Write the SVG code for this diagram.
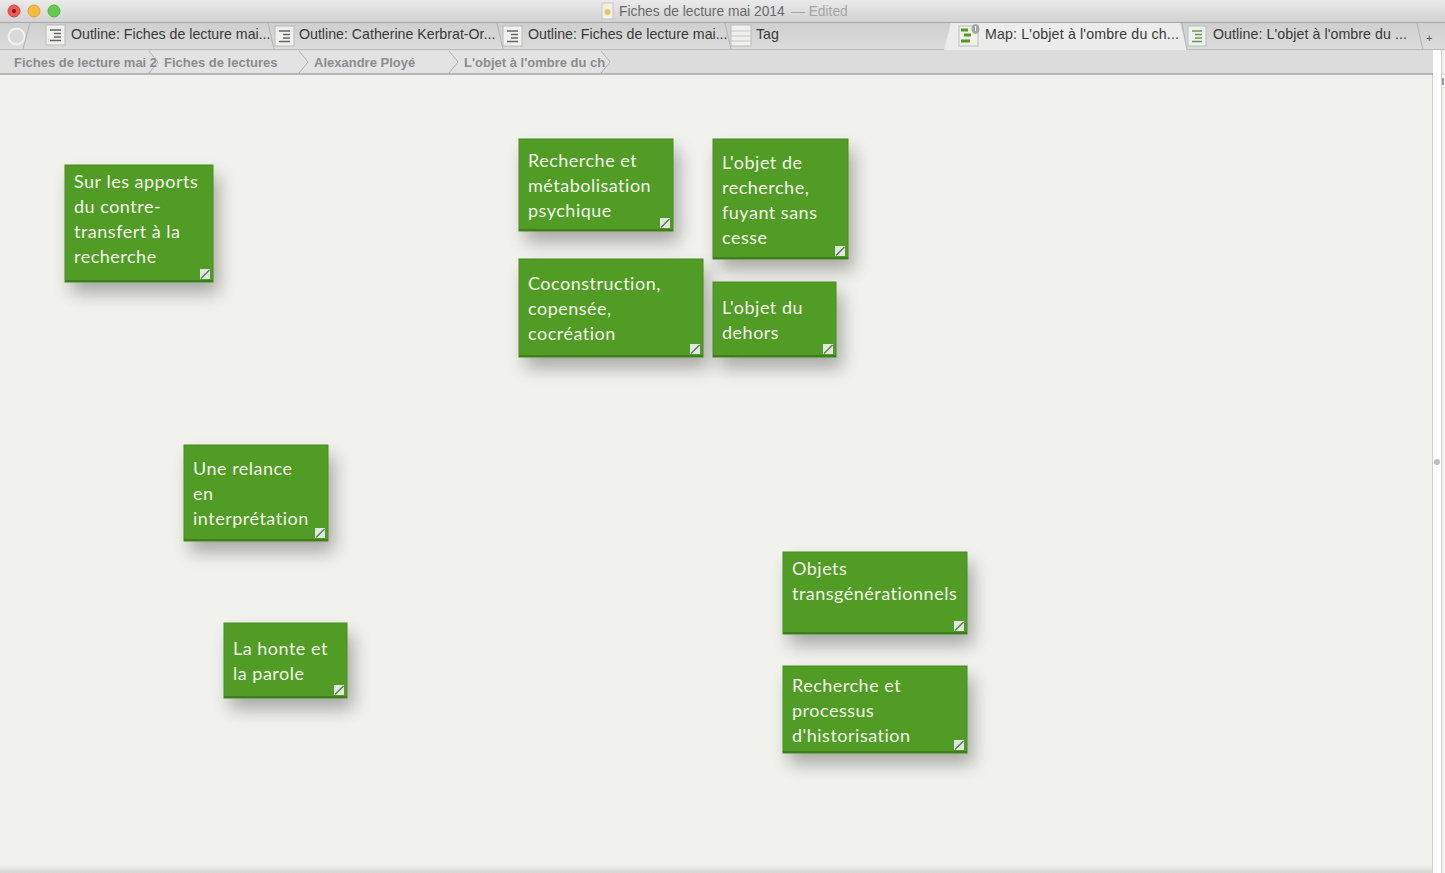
<svg xmlns="http://www.w3.org/2000/svg" width="1445" height="873" viewBox="0 0 1445 873">
<style>
.n{fill:#509c24;stroke:#468f1e;stroke-width:1}
.e{fill:none;stroke:#3e7f1a;stroke-width:2}
.sh{fill:#000;opacity:.3}
.t{font-family:"Lato","Liberation Sans",sans-serif;font-size:18px;fill:#f2f8ea;letter-spacing:.5px}
.tab{font-family:"Liberation Sans",Arial,sans-serif;font-size:14.2px;fill:#3a3a3a}
.bc{font-family:"Liberation Sans",Arial,sans-serif;font-size:13px;font-weight:bold;fill:#8c8c8c}
.ic{fill:#f1f1ef;stroke:#b9b9b9}
.il{stroke:#666;stroke-width:1.5}
.sep{fill:none;stroke:#b2b2b2}
</style>
<defs>
<linearGradient id="ti" x1="0" y1="0" x2="0" y2="1"><stop offset="0" stop-color="#eaeaea"/><stop offset="1" stop-color="#d2d2d2"/></linearGradient>
<linearGradient id="tb" x1="0" y1="0" x2="0" y2="1"><stop offset="0" stop-color="#cfcfcf"/><stop offset="1" stop-color="#dcdcdc"/></linearGradient>
<linearGradient id="bot" x1="0" y1="0" x2="0" y2="1"><stop offset="0" stop-color="#f1f2ed"/><stop offset="1" stop-color="#d6d6d3"/></linearGradient>
<filter id="s" x="-30%" y="-30%" width="170%" height="170%"><feGaussianBlur stdDeviation="9"/></filter>
<filter id="tx" x="-5%" y="-20%" width="110%" height="140%"><feGaussianBlur stdDeviation="0.35"/></filter>
<g id="corner"><rect width="10" height="10" fill="#dfe8dc"/><path d="M1 9.500L9.500 1" stroke="#58705a" stroke-width="1.300"/></g>
<g id="doc"><rect x="0" y="0" width="19" height="20" class="ic"/><path d="M4 5H15M8 8.500H15M8 12H15M4 15.500H15" class="il"/></g>
</defs>
<rect width="1445" height="873" fill="#f1f2ed"/>
<rect y="865" width="1433" height="8" fill="url(#bot)"/>
<rect x="1433" y="50" width="9" height="823" fill="#fff"/>
<path d="M1432.500 50V873M1441.500 50V873" stroke="#cfcfcf"/>
<circle cx="1437" cy="462" r="3" fill="#bdbdbd"/>
<path d="M1442 74H1445M1442 87H1445" stroke="#cfcfcf"/><rect x="1442" y="75" width="3" height="12" fill="#fff"/><path d="M1443 78V85" stroke="#333"/>

<g id="chrome">
<rect width="1445" height="22" fill="url(#ti)"/>
<rect y="22" width="1445" height="28" fill="url(#tb)"/>
<path d="M0 22.500H1445" stroke="#a8a8a8"/>
<rect y="50" width="1433" height="24" fill="#dcdcdc"/>
<path d="M0 49.500H1445" stroke="#bcbcbc"/><path d="M0 74H1433" stroke="#a6a6a6" stroke-width="1.500"/>
<circle cx="14" cy="11" r="6" fill="#ef5b52" stroke="#d8443d"/><circle cx="14" cy="11" r="2" fill="#7d1a14"/>
<circle cx="34" cy="11" r="6" fill="#f6bb3c" stroke="#dfa12d"/>
<circle cx="54" cy="11" r="6" fill="#63c94f" stroke="#50b13e"/>
<rect x="602" y="3" width="11" height="16" fill="#f3efe2" stroke="#c8c8c8"/><circle cx="607.500" cy="12" r="3" fill="#e9c46a"/>
<text x="619" y="16" font-family="Liberation Sans,Arial,sans-serif" font-size="13.800" fill="#6a6a6a">Fiches de lecture mai 2014</text>
<text x="791" y="16" font-family="Liberation Sans,Arial,sans-serif" font-size="13.800" fill="#a6a6a6">—  Edited</text>
<circle cx="16.500" cy="36.500" r="8" fill="#dadada" stroke="#f3f3f3" stroke-width="2"/>
<path d="M23 49L30 23M268 23L274 49M497 23L503 49M725 23L731 49" class="sep"/>
<path d="M944 50L951 23H1180L1187 50Z" fill="#ececec"/>
<path d="M1417 23L1423 50" class="sep"/>
<path d="M1187 50L1182 23" class="sep"/>
<use href="#doc" x="46" y="25"/><use href="#doc" x="275" y="26"/>
<use href="#doc" x="503" y="26"/>
<rect x="731" y="25" width="20" height="21" fill="#f0f0ee" stroke="#bdbdbd"/><path d="M731 31H751M731 36H751M731 41H751" stroke="#c6c6c6"/>
<rect x="1188" y="26" width="18" height="20" fill="#eef0ea" stroke="#bdbdbd"/><path d="M1192 31H1202M1195 34.500H1202M1195 38H1202M1192 41.500H1202" stroke="#6e9560" stroke-width="1.400"/>
<rect x="959" y="26" width="19" height="20" fill="#f0f2e6" stroke="#bdbdbd"/><path d="M961 30H968M964 35H971M961 41H970" stroke="#4f9a1f" stroke-width="3"/>
<ellipse cx="975.500" cy="29" rx="4" ry="5" fill="#a2a8a8"/><path d="M975.500 26V31" stroke="#eee"/>
<text class="tab" x="71" y="39">Outline: Fiches de lecture mai...</text>
<text class="tab" x="299" y="39">Outline: Catherine Kerbrat-Or...</text>
<text class="tab" x="528" y="39">Outline: Fiches de lecture mai...</text>
<text class="tab" x="756" y="39">Tag</text>
<text class="tab" x="985" y="39" textLength="194">Map: L'objet à l'ombre du ch...</text>
<text class="tab" x="1213" y="39" textLength="194">Outline: L'objet à l'ombre du ...</text>
<text x="1426" y="42" font-family="Liberation Sans,Arial,sans-serif" font-size="11" fill="#555">+</text>
<path d="M0 51H149L158 62L149 73H0Z" fill="#e0e0e0"/>
<path d="M149 51H299L308 62L299 73H149L158 62Z" fill="#e3e3e3"/>
<path d="M299 51H449L458 62L449 73H299L308 62Z" fill="#e3e3e3"/>
<path d="M449 51H601L610 62L601 73H449L458 62Z" fill="#e3e3e3"/>
<path d="M149 51L158 62L149 73M299 51L308 62L299 73M449 51L458 62L449 73M601 51L610 62L601 73" class="sep"/>
<text class="bc" x="14" y="67">Fiches de lecture mai 2</text>
<text class="bc" x="164" y="67">Fiches de lectures</text>
<text class="bc" x="314" y="67">Alexandre Ployé</text>
<text class="bc" x="464" y="67">L'objet à l'ombre du ch</text>
</g>

<g id="connectors"></g>

<g id="n1"><rect class="sh" x="71" y="176" width="148" height="117" filter="url(#s)"/><rect class="n" x="65" y="165" width="148" height="117"/><path class="e" d="M65 281H213"/><use href="#corner" x="200" y="269"/>
<text class="t" x="74" y="188">Sur les apports</text><text class="t" x="74" y="213">du contre-</text><text class="t" x="74" y="238">transfert à la</text><text class="t" x="74" y="263">recherche</text></g>

<g id="n2"><rect class="sh" x="525" y="150" width="154" height="92" filter="url(#s)"/><rect class="n" x="519" y="139" width="154" height="92"/><path class="e" d="M519 230H673"/><use href="#corner" x="660" y="218"/>
<text class="t" x="528" y="167">Recherche et</text><text class="t" x="528" y="192">métabolisation</text><text class="t" x="528" y="217">psychique</text></g>

<g id="n3"><rect class="sh" x="719" y="150" width="135" height="120" filter="url(#s)"/><rect class="n" x="713" y="139" width="135" height="120"/><path class="e" d="M713 258H848"/><use href="#corner" x="835" y="246"/>
<text class="t" x="722" y="169">L'objet de</text><text class="t" x="722" y="194">recherche,</text><text class="t" x="722" y="219">fuyant sans</text><text class="t" x="722" y="244">cesse</text></g>

<g id="n4"><rect class="sh" x="525" y="270" width="184" height="98" filter="url(#s)"/><rect class="n" x="519" y="259" width="184" height="98"/><path class="e" d="M519 356H703"/><use href="#corner" x="690" y="344"/>
<text class="t" x="528" y="290">Coconstruction,</text><text class="t" x="528" y="315">copensée,</text><text class="t" x="528" y="340">cocréation</text></g>

<g id="n5"><rect class="sh" x="719" y="293" width="123" height="75" filter="url(#s)"/><rect class="n" x="713" y="282" width="123" height="75"/><path class="e" d="M713 356H836"/><use href="#corner" x="823" y="344"/>
<text class="t" x="722" y="314">L'objet du</text><text class="t" x="722" y="339">dehors</text></g>

<g id="n6"><rect class="sh" x="190" y="456" width="144" height="96" filter="url(#s)"/><rect class="n" x="184" y="445" width="144" height="96"/><path class="e" d="M184 540H328"/><use href="#corner" x="315" y="528"/>
<text class="t" x="193" y="475">Une relance</text><text class="t" x="193" y="500">en</text><text class="t" x="193" y="525">interprétation</text></g>

<g id="n7"><rect class="sh" x="230" y="634" width="123" height="75" filter="url(#s)"/><rect class="n" x="224" y="623" width="123" height="75"/><path class="e" d="M224 697H347"/><use href="#corner" x="334" y="685"/>
<text class="t" x="233" y="655">La honte et</text><text class="t" x="233" y="680">la parole</text></g>

<g id="n8"><rect class="sh" x="789" y="563" width="184" height="82" filter="url(#s)"/><rect class="n" x="783" y="552" width="184" height="82"/><path class="e" d="M783 633H967"/><use href="#corner" x="954" y="621"/>
<text class="t" x="792" y="575">Objets</text><text class="t" x="792" y="600">transgénérationnels</text></g>

<g id="n9"><rect class="sh" x="789" y="677" width="184" height="87" filter="url(#s)"/><rect class="n" x="783" y="666" width="184" height="87"/><path class="e" d="M783 752H967"/><use href="#corner" x="954" y="740"/>
<text class="t" x="792" y="692">Recherche et</text><text class="t" x="792" y="717">processus</text><text class="t" x="792" y="742">d'historisation</text></g>
</svg>
